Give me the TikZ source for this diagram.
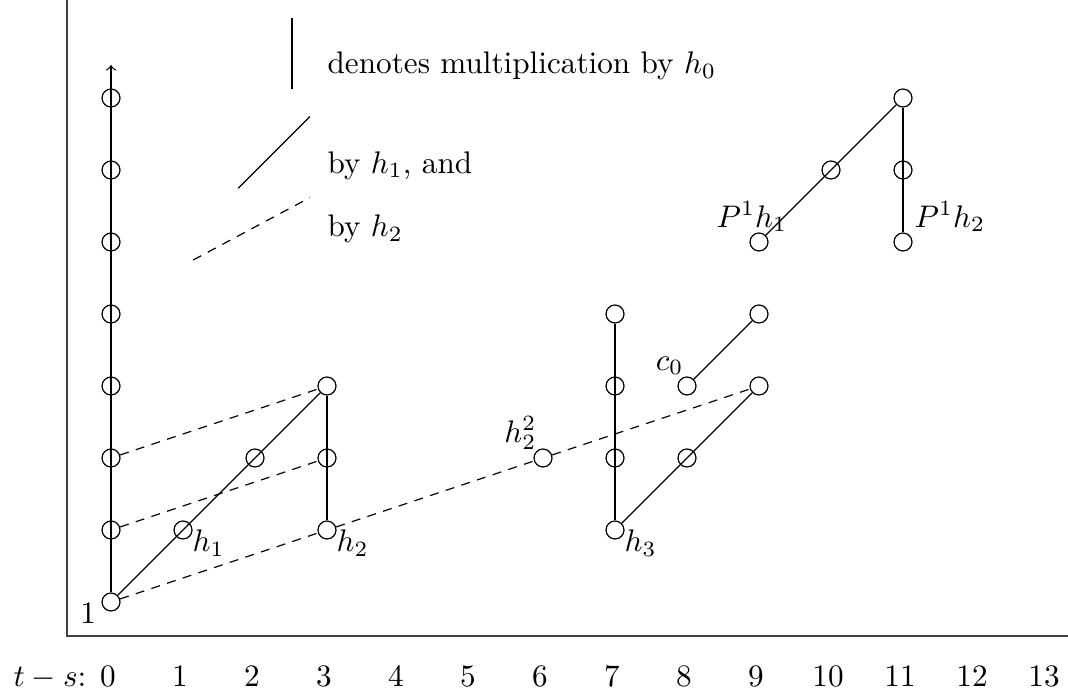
\documentclass[tikz,border=0pt]{standalone}
\usetikzlibrary{calc}
\begin{document}
\begin{tikzpicture}[x=24pt,y=24pt,
  dot/.style={circle,draw,minimum size=6pt,inner sep=0pt},
  hzero/.style={line width=0.4pt},
  hone/.style={line width=0.4pt},
  htwo/.style={line width=0.4pt,dash pattern=on 3pt off 2.5pt},
  axisline/.style={line width=0.5pt,black!75},
  lbl/.style={inner sep=0pt,scale=1.04}]
\useasboundingbox (-37pt,-32pt) rectangle (319pt,200.67pt);

% axes
\coordinate (axtop) at (-14.67pt,200.67pt);
\coordinate (axcorner) at (-14.67pt,-11.33pt);
\coordinate (axright) at (319pt,-11.33pt);
\draw[axisline] (axtop) -- (axcorner) -- (axright);

% tick labels
\node[lbl,anchor=base east] (tslabel) at (-8pt,-28.33pt) {$t-s$:};
\foreach \i in {0,...,13}{
  \node[lbl,anchor=base] (tick\i) at ([xshift=-1pt]\i,-28.33pt) {$\i$};
}

% dots
\foreach \s in {0,...,7}{ \node[dot] (c0-\s) at (0,\s) {}; }
\foreach \x/\s in {1/1,2/2,3/1,3/2,3/3,6/2,7/1,7/2,7/3,7/4,8/2,8/3,9/3,9/4,9/5,10/6,11/5,11/6,11/7}{
  \node[dot] (c\x-\s) at (\x,\s) {};
}

% h0 tower
\coordinate (towertop) at (0,179pt);
\draw[hzero,->] (c0-0) -- (towertop);
\draw[hzero] (c3-1) -- (c3-3);
\draw[hzero] (c7-1) -- (c7-4);
\draw[hzero] (c11-5) -- (c11-7);

% h1 lines
\draw[hone] (c0-0) -- (c3-3);
\draw[hone] (c7-1) -- (c9-3);
\draw[hone] (c8-3) -- (c9-4);
\draw[hone] (c9-5) -- (c11-7);

% h2 lines
\draw[htwo] (c0-1) -- (c3-2);
\draw[htwo] (c0-2) -- (c3-3);
\draw[htwo] (c0-0) -- (c3-1);
\draw[htwo] (c3-1) -- (c6-2);
\draw[htwo] (c6-2) -- (c9-3);

% labels
\node[lbl,anchor=base east] (l1) at ([shift={(-4.8pt,-7pt)}]c0-0.center) {$1$};
\node[lbl,anchor=base west] (lh1) at ([shift={(3pt,-7.2pt)}]c1-1.center) {$h_1$};
\node[lbl,anchor=base west] (lh2) at ([shift={(3pt,-7.2pt)}]c3-1.center) {$h_2$};
\node[lbl,anchor=base west] (lh3) at ([shift={(3pt,-7.2pt)}]c7-1.center) {$h_3$};
\node[lbl,anchor=base east] (lh22) at ([shift={(-2pt,5.3pt)}]c6-2.center) {$h_2^2$};
\node[lbl,anchor=base east] (lc0) at ([shift={(-1pt,5.3pt)}]c8-3.center) {$c_0$};
\node[lbl,anchor=base west] (lp1) at ([shift={(-14.3pt,5pt)}]c9-5.center) {$P^1h_1$};
\node[lbl,anchor=base west] (lp2) at ([shift={(3.7pt,5pt)}]c11-5.center) {$P^1h_2$};

% legend
\coordinate (leg0a) at (60.3pt,194.67pt);
\coordinate (leg0b) at (60.3pt,171pt);
\draw[hzero] (leg0a) -- (leg0b);
\node[lbl,anchor=base west] (legt0) at (72pt,176pt) {denotes multiplication by $h_0$};
\coordinate (leg1a) at (42.4pt,137.9pt);
\coordinate (leg1b) at (66.3pt,161.8pt);
\draw[hone] (leg1a) -- (leg1b);
\node[lbl,anchor=base west] (legt1) at (72pt,143pt) {by $h_1$, and};
\coordinate (leg2a) at (27.4pt,114pt);
\coordinate (leg2b) at (66.3pt,134.8pt);
\draw[htwo] (leg2a) -- (leg2b);
\node[lbl,anchor=base west] (legt2) at (72pt,121.8pt) {by $h_2$};
\end{tikzpicture}
\end{document}
